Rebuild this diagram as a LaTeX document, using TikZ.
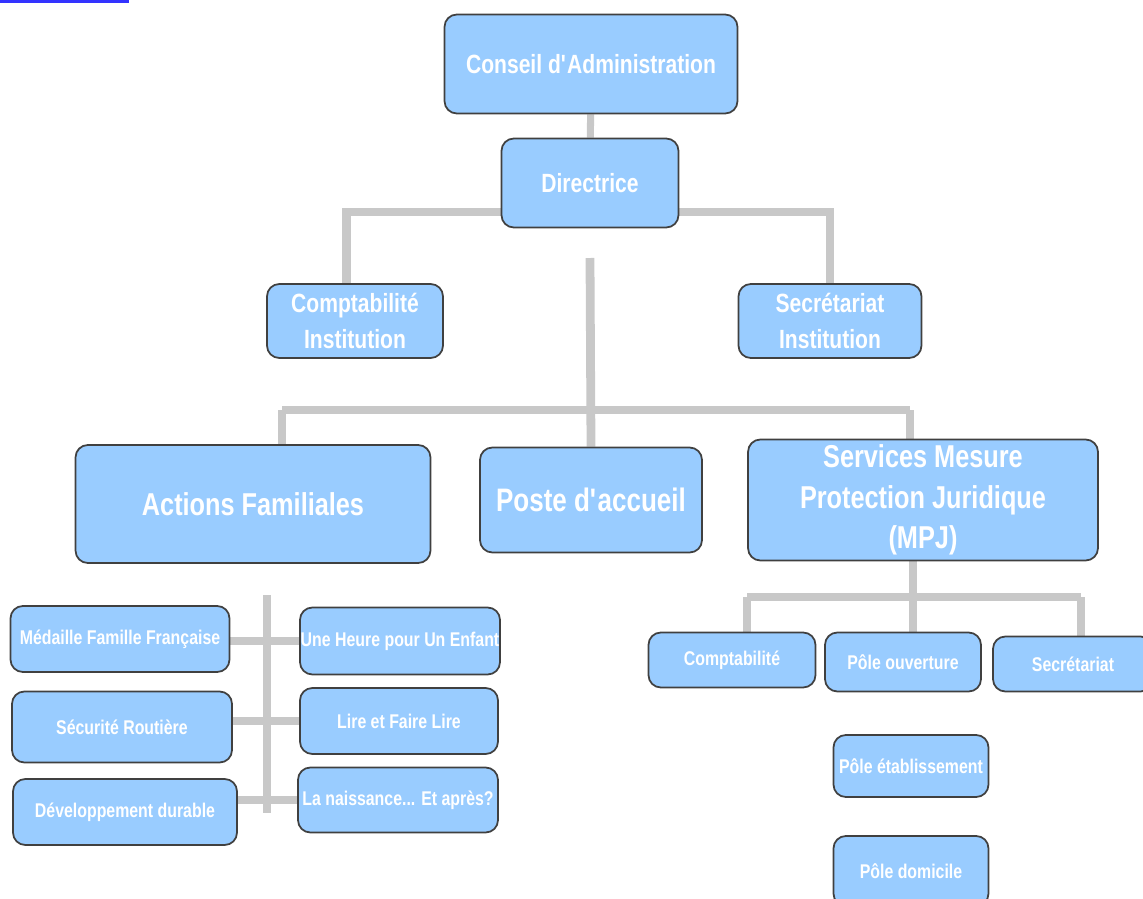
\documentclass[tikz,border=0pt]{standalone}
\usepackage{fontspec}
\setmainfont{Liberation Sans}[FakeStretch=0.8]
\usetikzlibrary{backgrounds}
\definecolor{boxblue}{RGB}{153,204,255}
\definecolor{linkgray}{RGB}{200,200,200}
\tikzset{
  box/.style={draw=black!75, line width=1pt, fill=boxblue, rounded corners=7pt,
    text=white, font=\bfseries, align=center, inner sep=0pt},
  small/.style={box, font=\bfseries\fontsize{11.3}{13}\selectfont},
  link/.style={draw=linkgray, line width=5pt}
}
\begin{document}
\begin{tikzpicture}[x=0.02cm, y=-0.02cm]
\useasboundingbox (0,0) rectangle (1143,899);
\clip (0,0) rectangle (1143,899);
\fill[blue!80] (0,0) rectangle (129,3);

% top
\node[box, minimum width=5.86cm, minimum height=1.98cm, font=\bfseries\fontsize{15}{17}\selectfont] (conseil) at (591,64) {Conseil d\textquotesingle Administration};
\node[box, minimum width=3.54cm, minimum height=1.78cm, font=\bfseries\fontsize{15}{17}\selectfont] (dir) at (590,183) {Directrice};
\node[box, minimum width=3.52cm, minimum height=1.48cm, font=\bfseries\fontsize{15}{20}\selectfont] (cinst) at (355,321) {Comptabilit\'e\\Institution};
\node[box, minimum width=3.66cm, minimum height=1.48cm, font=\bfseries\fontsize{15}{20}\selectfont] (sinst) at (830,321) {Secr\'etariat\\Institution};

% services
\node[box, minimum width=7.10cm, minimum height=2.36cm, font=\bfseries\fontsize{18}{20}\selectfont] (actions) at (253,504) {Actions Familiales};
\node[box, minimum width=4.44cm, minimum height=2.10cm, font=\bfseries\fontsize{18.5}{20}\selectfont] (poste) at (591,500) {Poste d\textquotesingle accueil};
\node[box, minimum width=7.00cm, minimum height=2.42cm, font=\bfseries\fontsize{18}{23}\selectfont] (mpj) at (923,500) {Services Mesure\\Protection Juridique\\(MPJ)};

% actions familiales
\node[small, minimum width=4.38cm, minimum height=1.32cm] (medaille) at (120,639) {M\'edaille Famille Fran\c{c}aise};
\node[small, minimum width=4.00cm, minimum height=1.34cm] (heure) at (400,641) {Une Heure pour Un Enfant};
\node[small, minimum width=4.40cm, minimum height=1.42cm] (securite) at (122,727) {S\'ecurit\'e Routi\`ere};
\node[small, minimum width=3.96cm, minimum height=1.32cm] (lire) at (399,721) {Lire et Faire Lire};
\node[small, minimum width=4.48cm, minimum height=1.32cm] (devdur) at (125,812) {D\'eveloppement durable};
\node[small, minimum width=4.00cm, minimum height=1.30cm] (naissance) at (398,800) {La naissance... Et apr\`es?};

% mpj
\node[small, minimum width=3.34cm, minimum height=1.10cm] (compta) at (732,660) {Comptabilit\'e};
\node[small, minimum width=3.12cm, minimum height=1.18cm] (pouv) at (903,662) {P\^ole ouverture};
\node[small, minimum width=3.20cm, minimum height=1.10cm] (secr) at (1073,664) {Secr\'etariat};
\node[small, minimum width=3.10cm, minimum height=1.24cm] (petab) at (911,766) {P\^ole \'etablissement};
\node[small, minimum width=3.10cm, minimum height=1.40cm] (pdom) at (911,871) {P\^ole domicile};

\coordinate (jdir) at (590,212);
\coordinate (jtop) at (590,258);
\coordinate (ja) at (282,410);
\coordinate (jm) at (910,410);
\coordinate (lt) at (267,595);
\coordinate (lb) at (267,813);
\coordinate (jp) at (913,597);
\coordinate (jc) at (747,597);
\coordinate (js) at (1081,597);

\begin{scope}[on background layer]
\draw[link, line width=4pt] (conseil) -- (dir);
\draw[link] (jdir) -| ([xshift=-5]cinst.north);
\draw[link] (jdir) -| (sinst.north);
\draw[link] (jtop) -- (poste.north);
\draw[link] (ja) -- (jm);
\draw[link] (ja) -- (ja |- actions.north);
\draw[link] (jm) -- (jm |- mpj.north);
\draw[link] (lt) -- (lb);
\draw[link] (heure.west) -- (heure.west -| medaille.east);
\draw[link] (lire.west) -- (lire.west -| securite.east);
\draw[link] (naissance.west) -- (naissance.west -| devdur.east);
\draw[link] (jp |- mpj.south) -- (jp |- pouv.north);
\draw[link] (jc) -- (js);
\draw[link] (jc) -- (jc |- compta.north);
\draw[link] (js) -- (js |- secr.north);
\end{scope}
\end{tikzpicture}
\end{document}
